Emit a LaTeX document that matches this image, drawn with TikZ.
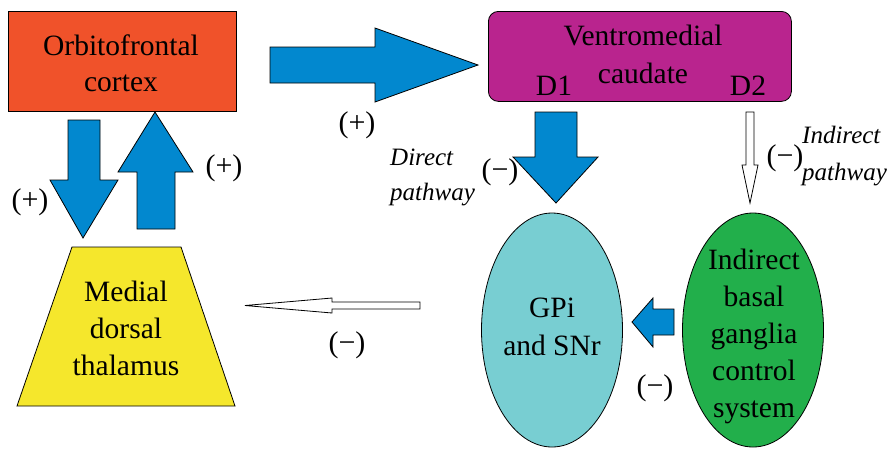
\documentclass[tikz,border=0pt]{standalone}
\usepackage{fontspec}
\setmainfont{Liberation Serif}
\usetikzlibrary{shapes.geometric}
\definecolor{orangebox}{HTML}{F0522A}
\definecolor{magentabox}{HTML}{B9248E}
\definecolor{bluearrow}{HTML}{0288CF}
\definecolor{yellowbox}{HTML}{F5E72C}
\definecolor{cyanbox}{HTML}{78CED2}
\definecolor{greenbox}{HTML}{22AF4B}
\tikzset{
  outl/.style={draw=black, line width=0.8pt, line join=miter},
  blockarrow/.style={outl, fill=bluearrow},
  hollowarrow/.style={outl, fill=white},
  bigtext/.style={font=\fontsize{29.5}{37}\selectfont, align=center, inner sep=0pt},
  lbl/.style={font=\fontsize{30}{34}\selectfont, inner sep=0pt},
  itlbl/.style={font=\fontsize{25}{30}\selectfont\itshape, inner sep=0pt, anchor=base west},
}
\begin{document}
\begin{tikzpicture}[x=1pt, y=-1pt]
\useasboundingbox (0,0) rectangle (893,448);
% boxes
\node[outl, fill=orangebox, minimum width=228pt, minimum height=100pt, inner sep=0pt, anchor=north west] (ofc) at (8,11) {};
\node[bigtext, anchor=base, font=\fontsize{29.5}{36}\selectfont] (ofctext) at (121,91) {Orbitofrontal\\cortex};
\node[outl, fill=magentabox, rounded corners=10pt, minimum width=303pt, minimum height=90pt, inner sep=0pt, anchor=north west] (vmc) at (488,11) {};
\node[bigtext, anchor=base, font=\fontsize{29.5}{38}\selectfont] (vmctext) at (643,83) {Ventromedial\\caudate};
\node[bigtext, anchor=base] (d1) at (554,95) {D1};
\node[bigtext, anchor=base] (d2) at (748,95) {D2};
% thalamus trapezoid
\draw[outl, fill=yellowbox] (72,247) -- (181,247) -- (235,406) -- (17,406) -- cycle;
\node[bigtext, anchor=base] (mdt) at (126,375) {Medial\\dorsal\\thalamus};
% ellipses
\node[outl, fill=cyanbox, ellipse, minimum width=141pt, minimum height=234pt, inner sep=0pt] (gpi) at (552,330) {};
\node[bigtext, anchor=base, font=\fontsize{29.5}{38}\selectfont] (gpitext) at (552,355) {GPi\\and SNr};
\node[outl, fill=greenbox, ellipse, minimum width=141pt, minimum height=234pt, inner sep=0pt] (ibg) at (753,330) {};
\node[bigtext, anchor=base] (ibgtext) at (754,417) {Indirect\\basal\\ganglia\\control\\system};
% block arrows
\draw[blockarrow] (270,47) -- (375,47) -- (375,28) -- (478,65) -- (375,102) -- (375,83) -- (270,83) -- cycle;
\draw[blockarrow] (68,120) -- (100,120) -- (100,180) -- (118,180) -- (83,238) -- (50,180) -- (68,180) -- cycle;
\draw[blockarrow] (155,112) -- (193,172) -- (175,172) -- (175,229) -- (137,229) -- (137,172) -- (118,172) -- cycle;
\draw[blockarrow] (535,112) -- (577,112) -- (577,157) -- (598,157) -- (556,203) -- (513,157) -- (535,157) -- cycle;
\draw[hollowarrow] (746,112) -- (754,112) -- (754,165) -- (758,165) -- (750,203) -- (742,165) -- (746,165) -- cycle;
\draw[hollowarrow] (420,302) -- (332,302) -- (332,298) -- (245,305.5) -- (332,313) -- (332,309) -- (420,309) -- cycle;
\draw[blockarrow] (674,309) -- (653,309) -- (653,298) -- (632,322) -- (653,347) -- (653,335) -- (674,335) -- cycle;
% labels
\node[lbl] (p1) at (357,125) {(+)};
\node[lbl] (p2) at (224,168) {(+)};
\node[lbl] (p3) at (30,202) {(+)};
\node[lbl] (m1) at (500,172) {(−)};
\node[lbl] (m2) at (785,158) {(−)};
\node[lbl] (m3) at (347,345) {(−)};
\node[lbl] (m4) at (655,388) {(−)};
\node[itlbl] (dp1) at (390,165) {Direct};
\node[itlbl] (dp2) at (390,200) {pathway};
\node[itlbl] (ip1) at (802,143) {Indirect};
\node[itlbl] (ip2) at (802,180) {pathway};
\end{tikzpicture}
\end{document}
